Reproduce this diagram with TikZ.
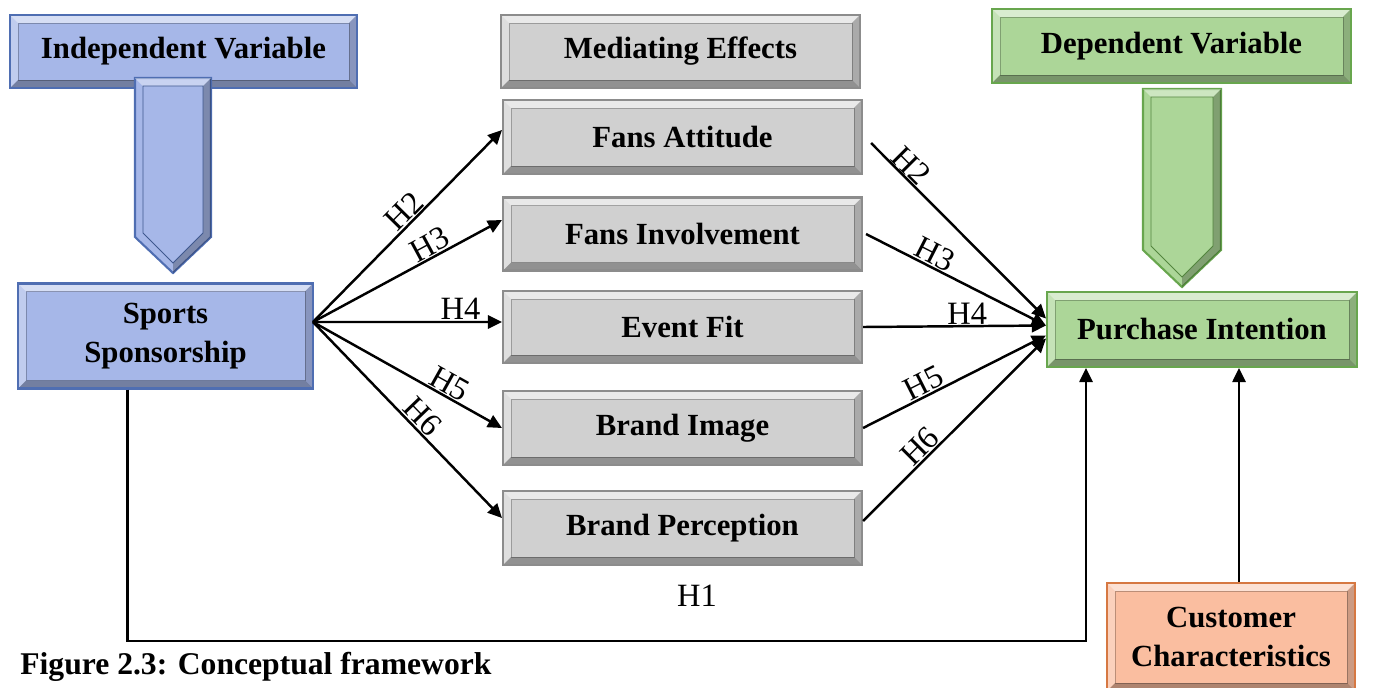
\documentclass[tikz,border=0pt]{standalone}
\usepackage{fontspec}
\setmainfont{Liberation Serif}[BoldFont={Liberation Serif Bold}]
\usetikzlibrary{arrows.meta}

\definecolor{blueface}{RGB}{166,183,232}
\definecolor{blueedge}{RGB}{79,110,178}
\definecolor{grayface}{RGB}{208,208,208}
\definecolor{grayedge}{RGB}{140,140,140}
\definecolor{greenface}{RGB}{172,214,152}
\definecolor{greenedge}{RGB}{104,166,78}
\definecolor{orangeface}{RGB}{250,190,160}
\definecolor{orangeedge}{RGB}{214,120,66}

\newcommand\lblfont{\fontsize{17.5}{22.5}\selectfont\bfseries}
\newcommand\hypfont{\fontsize{18.5}{20}\selectfont}

\tikzset{
  bevel/.style={path picture={
    \path (path picture bounding box.north west) coordinate (bA)
          (path picture bounding box.north east) coordinate (bB)
          (path picture bounding box.south east) coordinate (bC)
          (path picture bounding box.south west) coordinate (bD);
    \path ([shift={(4.5pt,-4.5pt)}]bA) coordinate (iA)
          ([shift={(-4.5pt,-4.5pt)}]bB) coordinate (iB)
          ([shift={(-4.5pt,4.5pt)}]bC) coordinate (iC)
          ([shift={(4.5pt,4.5pt)}]bD) coordinate (iD);
    \fill[white,opacity=.55] (bA) -- (bB) -- (iB) -- (iA) -- cycle;
    \fill[white,opacity=.3] (bA) -- (iA) -- (iD) -- (bD) -- cycle;
    \fill[black,opacity=.3] (bD) -- (iD) -- (iC) -- (bC) -- cycle;
    \fill[black,opacity=.18] (bB) -- (bC) -- (iC) -- (iB) -- cycle;
    \draw[black,opacity=.25,line width=.4pt] (iA) rectangle (iC);
  }},
  varbox/.style 2 args={draw=#2, fill=#1, line width=1.2pt, bevel,
    font=\lblfont, align=center, inner sep=0pt},
  bluebox/.style={varbox={blueface}{blueedge}},
  graybox/.style={varbox={grayface}{grayedge}, minimum width=7.18cm, minimum height=1.46cm},
  greenbox/.style={varbox={greenface}{greenedge}},
  orangebox/.style={varbox={orangeface}{orangeedge}},
  link/.style={line width=1.4pt, -{Triangle[length=8pt,width=7.5pt]}},
  hyp/.style={font=\hypfont, sloped, above, inner sep=0.5pt},
}

\begin{document}
\begin{tikzpicture}[x=0.02cm, y=-0.02cm]
\useasboundingbox (0,0) rectangle (1379,687);

% variable headers
\node[bluebox, minimum width=6.94cm, minimum height=1.46cm] (iv) at (183.5,51.5) {Independent Variable};
\node[graybox] (me) at (680.5,51.5) {Mediating Effects};
\node[greenbox, minimum width=7.18cm, minimum height=1.48cm] (dv) at (1171.5,46) {Dependent Variable};

% chevrons
\draw[blueedge, line width=1.2pt, fill=blueface] (135,78) -- (211,78) -- (211,237) -- (173,273) -- (135,237) -- cycle;
\fill[white, opacity=.4] (135,78) -- (211,78) -- (203,86) -- (143,86) -- cycle;
\fill[black, opacity=.25] (211,78) -- (211,237) -- (173,273) -- (173,263) -- (203,233) -- (203,86) -- cycle;
\draw[blueedge!80!black, line width=.5pt] (143,86) -- (203,86) -- (203,233) -- (173,263) -- (143,233) -- cycle;

\draw[greenedge, line width=1.2pt, fill=greenface] (1143,89) -- (1221,89) -- (1221,250) -- (1182,287) -- (1143,250) -- cycle;
\fill[white, opacity=.4] (1143,89) -- (1221,89) -- (1213,97) -- (1151,97) -- cycle;
\fill[black, opacity=.25] (1221,89) -- (1221,250) -- (1182,287) -- (1182,277) -- (1213,246) -- (1213,97) -- cycle;
\draw[greenedge!80!black, line width=.5pt] (1151,97) -- (1213,97) -- (1213,246) -- (1182,277) -- (1151,246) -- cycle;

% main boxes
\node[bluebox, minimum width=5.9cm, minimum height=2.1cm] (ss) at (165.5,336) {Sports\\Sponsorship};
\node[graybox, minimum height=1.48cm] (fa) at (682.5,137) {Fans Attitude};
\node[graybox] (fi) at (682.5,234) {Fans Involvement};
\node[graybox, minimum height=1.44cm] (ef) at (682.5,327) {Event Fit};
\node[graybox, minimum height=1.48cm] (bi) at (682.5,428) {Brand Image};
\node[graybox, minimum height=1.48cm] (bp) at (682.5,528) {Brand Perception};
\node[greenbox, minimum width=6.2cm, minimum height=1.5cm] (pi) at (1202,329.5) {Purchase Intention};
\node[orangebox, minimum width=4.96cm, minimum height=2.16cm] (cc) at (1231,637) {Customer\\Characteristics};

% sponsorship to mediators
\coordinate (fan) at (313,322);
\draw[link] (fan) -- ([yshift=0.14cm]fa.west) node[hyp, pos=0.53] {H2};
\draw[link] (fan) -- ([yshift=0.28cm]fi.west) node[hyp, pos=0.65] {H3};
\draw[link] (fan) -- ([yshift=0.1cm]ef.west) node[hyp, pos=0.78] {H4};
\draw[link] (fan) -- (bi.west) node[hyp, pos=0.69] {H5};
\draw[link] (fan) -- ([yshift=0.2cm]bp.west) node[hyp, pos=0.53] {H6};

% mediators to purchase intention
\draw[link] ([shift={(0.16cm,-0.12cm)}]fa.east) -- ([yshift=0.22cm]pi.west) node[hyp, pos=0.18] {H2};
\draw[link] ([xshift=0.06cm]fi.east) -- ([yshift=0.08cm]pi.west) node[hyp, pos=0.35] {H3};
\draw[link] (ef.east) -- ([yshift=0.08cm]pi.west) node[hyp, pos=0.57] {H4};
\draw[link] (bi.east) -- ([yshift=-0.12cm]pi.west) node[hyp, pos=0.36] {H5};
\draw[link] ([yshift=0.14cm]bp.east) -- ([yshift=-0.18cm]pi.west) node[hyp, pos=0.36] {H6};

% direct effect and moderator
\coordinate (h1turn) at (1086,641);
\draw[link] ([xshift=-0.76cm]ss.south) |- (h1turn) -- (h1turn |- pi.south);
\node[font=\hypfont] (h1) at (697,596) {H1};
\draw[link] ([xshift=0.16cm]cc.north) -- ([xshift=0.16cm]cc.north |- pi.south);

% caption
\node[anchor=west, inner sep=0pt, font=\fontsize{18}{20}\selectfont\bfseries] (cap) at (20,667) {Figure 2.3: Conceptual framework};

\end{tikzpicture}
\end{document}
